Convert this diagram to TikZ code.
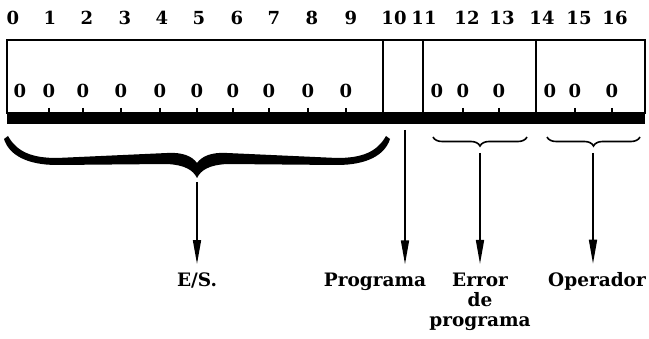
\documentclass[tikz,border=0pt]{standalone}
\usepackage{fontspec}
\setmainfont{DejaVu Serif}
\usetikzlibrary{arrows.meta,decorations.pathreplacing}

\begin{document}
\begin{tikzpicture}[x=1pt, y=-1pt,
	>={Triangle[length=24pt,width=8pt]},
	bit/.style={font=\fontsize{18}{20}\selectfont\bfseries, inner sep=0pt, anchor=base},
	lbl/.style={font=\fontsize{18.5}{20}\selectfont\bfseries, inner sep=0pt, anchor=base, align=center},
	flag/.style={->, line width=1.6pt, shorten >=9pt},
	thinbrace/.style={decorate, decoration={brace, mirror, amplitude=9pt}, line width=1.6pt}]
	\useasboundingbox (0,0) rectangle (649,339);

	% Bit numbers {0 .. 16}
	\foreach \n/\x in {0/13,1/50,2/87,3/125,4/162,5/199,6/237,7/274,8/312,9/351,
		10/394,11/424,12/467,13/502,14/542,15/579,16/615}
		\node [bit] (h\n) at (\x,25) {\n};

	% Register
	\coordinate (nw) at (7,40);
	\coordinate (se) at (645,113);
	\fill (7,113) rectangle (645,124);
	\draw [line width=2.5pt] (nw) rectangle (se);
	\foreach \x in {383,423,536}
		\draw [line width=1.8pt] (\x,40) -- (\x,113);

	% Contents
	\foreach \n/\x in {0/20,1/49,2/83,3/121,4/160,5/197,6/233,7/269,8/308,9/346,
		11/437,12/463,13/499,14/550,15/575,16/612}
		\node [bit] (z\n) at (\x,98) {0};
	\foreach \n in {1,...,9,12,13,15,16}
		\draw [line width=1.3pt] ([yshift=-10pt]z\n.base) -- ([yshift=-15pt]z\n.base);

	% Braces
	\foreach \s in {1,-1}
		\fill [shift={(197,0)}, xscale=\s]
			(-189,136) .. controls (-180,152) and (-165,158) .. (-140,158)
			-- (-30,153) .. controls (-15,152) and (-5,156) .. (0,163)
			-- (0,178) .. controls (-4,170) and (-12,165) .. (-30,164)
			-- (-140,165) .. controls (-170,165) and (-188,155) .. (-193,139) -- cycle;
	\draw [thinbrace] (433,137) -- (527,137);
	\draw [thinbrace] (547,137) -- (640,137);

	% Labels
	\node [lbl] (es)  at (197,287) {E/S.};
	\node [lbl] (prg) at (375,287) {Programa};
	\node [lbl, anchor=north] (err) at (480,273) {Error\\de\\programa};
	\node [lbl] (op)  at (597,287) {Operador};

	% Arrows
	\coordinate (esTip)  at (197,182);
	\coordinate (prgTop) at (405,130);
	\coordinate (errTip) at (480,153);
	\coordinate (opTip)  at (593,153);
	\draw [flag] (esTip)  -- (esTip |- es.north);
	\draw [flag] (prgTop) -- (prgTop |- prg.north);
	\draw [flag] (errTip) -- (errTip |- err.north);
	\draw [flag] (opTip)  -- (opTip |- op.north);
\end{tikzpicture}
\end{document}
